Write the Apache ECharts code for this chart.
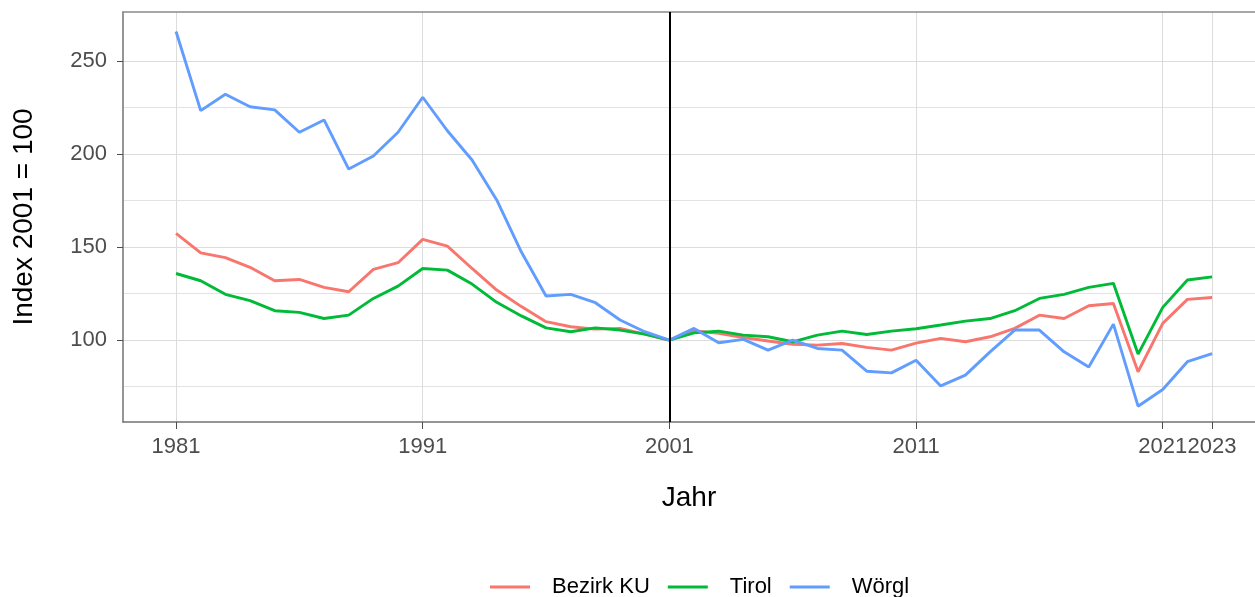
<!DOCTYPE html>
<html>
<head>
<meta charset="utf-8">
<script src="https://cdn.jsdelivr.net/npm/echarts@6/dist/echarts.min.js"></script>
<style>
  html, body { margin: 0; padding: 0; background: #fff; }
  #chart { width: 1255px; height: 597px; }
</style>
</head>
<body>
<div id="chart"></div>
<script>
// Jahre 1981 - 2023, Index 2001 = 100
var years = [];
for (var y = 1981; y <= 2023; y++) years.push(y);

var bezirkKU = [157.3, 146.9, 144.3, 139.1, 131.9, 132.6, 128.3, 126.0, 138.0, 141.6,
  154.1, 150.5, 138.5, 126.9, 118.0, 109.9, 107.2, 105.9, 106.3, 103.2,
  100.0, 105.0, 103.6, 101.4, 99.5, 97.8, 97.3, 98.2, 96.1, 94.6,
  98.4, 100.9, 99.1, 101.8, 106.3, 113.4, 111.6, 118.5, 119.7, 83.0,
  109.0, 121.9, 122.9];

var tirol = [135.8, 131.9, 124.6, 121.2, 115.8, 114.9, 111.6, 113.4, 122.4, 129.0,
  138.5, 137.6, 130.1, 120.3, 113.0, 106.6, 104.5, 106.6, 105.4, 103.2,
  100.0, 103.9, 104.8, 102.7, 101.8, 99.1, 102.7, 104.8, 103.0, 104.8,
  106.1, 108.1, 110.2, 111.6, 115.8, 122.4, 124.6, 128.3, 130.5, 92.5,
  117.6, 132.3, 134.0];

var woergl = [265.8, 223.3, 232.1, 225.4, 223.7, 211.7, 218.3, 191.9, 198.9, 211.7,
  230.5, 212.5, 196.8, 175.3, 147.3, 123.7, 124.6, 120.1, 110.8, 104.5,
  100.0, 106.3, 98.6, 100.4, 94.6, 100.0, 95.5, 94.6, 83.3, 82.4,
  89.2, 75.4, 81.2, 93.7, 105.4, 105.4, 93.7, 85.6, 108.6, 64.5,
  73.5, 88.4, 92.8];

var xTicks = [1981, 1991, 2001, 2011, 2021, 2023];
var yTicks = [100, 150, 200, 250];
var yMinorTicks = [75, 125, 175, 225];

var seriesNames = ["Bezirk KU", "Tirol", "Wörgl"];
var seriesColors = ["#F8766D", "#00BA38", "#619CFF"];
var seriesValues = [bezirkKU, tirol, woergl];

function pairs(values) {
  var out = [];
  for (var i = 0; i < years.length; i++) out.push([years[i], values[i]]);
  return out;
}

var chart = echarts.init(document.getElementById("chart"), null, { renderer: "canvas" });
var font = "'Liberation Sans', Arial, sans-serif";
var xMin = 1978.85, xMax = 2024.74;
var yMin = 56, yMax = 276.3;

var series = [];
for (var i = 0; i < seriesNames.length; i++) {
  series.push({
    name: seriesNames[i],
    type: "line",
    data: pairs(seriesValues[i]),
    showSymbol: false,
    symbol: "none",
    lineStyle: { color: seriesColors[i], width: 2.9 },
    itemStyle: { color: seriesColors[i] },
    z: 3 + i
  });
}
// senkrechte Linie bei 2001
series[2].markLine = {
  silent: true,
  symbol: "none",
  label: { show: false },
  lineStyle: { color: "#000", width: 2, type: "solid" },
  data: [{ xAxis: 2001 }],
  z: 10
};

var option = {
  animation: false,
  backgroundColor: "#fff",
  textStyle: { fontFamily: font },
  grid: { left: 123, top: 12, right: 0, bottom: 175 },
  legend: {
    data: seriesNames,
    left: 485, top: 571,
    icon: "rect",
    itemWidth: 40, itemHeight: 3,
    itemGap: 18,
    textStyle: { fontSize: 22, color: "#000", fontFamily: font, padding: [0, 0, 0, 17] }
  },
  xAxis: [{
    type: "value",
    min: xMin, max: xMax,
    name: "Jahr",
    nameLocation: "middle",
    nameGap: 62,
    nameTextStyle: { fontSize: 28, color: "#000", fontFamily: font },
    axisLine: { show: true, onZero: false, lineStyle: { color: "#737373", width: 1.5 } },
    axisTick: { show: true, length: 7, customValues: xTicks, lineStyle: { color: "#4d4d4d", width: 1 } },
    axisLabel: {
      customValues: xTicks, margin: 14, fontSize: 22, color: "#4d4d4d", fontFamily: font,
      formatter: function (v) { return String(v); }
    },
    splitLine: { show: true, lineStyle: { color: "#dcdcdc", width: 1 } }
  }, {
    // obere Rahmenlinie
    type: "value",
    min: xMin, max: xMax,
    position: "top",
    axisLine: { show: true, onZero: false, lineStyle: { color: "#8a8a8a", width: 1.5 } },
    axisTick: { show: false },
    axisLabel: { show: false },
    splitLine: { show: false }
  }],
  yAxis: [{
    type: "value",
    min: yMin, max: yMax,
    name: "Index 2001 = 100",
    nameLocation: "middle",
    nameGap: 85,
    nameTextStyle: { fontSize: 28, color: "#000", fontFamily: font },
    axisLine: { show: true, onZero: false, lineStyle: { color: "#737373", width: 1.5 } },
    axisTick: { show: true, length: 6, customValues: yTicks, lineStyle: { color: "#4d4d4d", width: 1 } },
    axisLabel: { customValues: yTicks, margin: 16, fontSize: 22, color: "#4d4d4d", fontFamily: font },
    splitLine: { show: true, lineStyle: { color: "#dcdcdc", width: 1 } }
  }, {
    type: "value",
    min: yMin, max: yMax,
    position: "left",
    axisLine: { show: false },
    axisTick: { show: false, customValues: yMinorTicks },
    axisLabel: { show: false, customValues: yMinorTicks },
    splitLine: { show: true, lineStyle: { color: "#e3e3e3", width: 1 } }
  }],
  series: series
};

chart.setOption(option);
</script>
</body>
</html>
